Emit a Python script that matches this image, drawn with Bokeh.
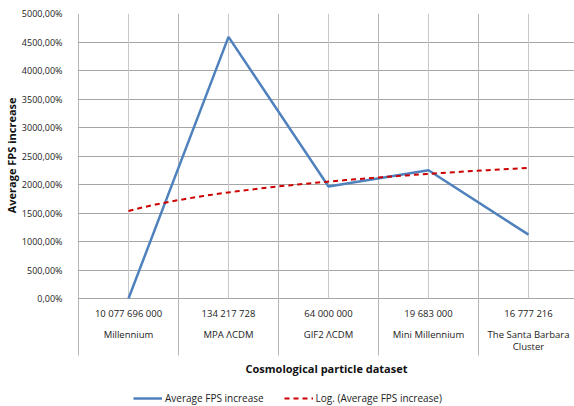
import numpy as np
from bokeh.plotting import figure
from bokeh.models import (Range1d, FixedTicker, CustomJSTickFormatter, Title, Legend, LegendItem)
from bokeh.core.properties import value
from bokeh.embed import file_html
from bokeh.resources import INLINE

# ---- data ----
datasets = ["Millennium", "MPA \u039bCDM", "GIF2 \u039bCDM", "Mini Millennium", "The Santa Barbara\nCluster"]
particles = ["10 077 696 000", "134 217 728", "64 000 000", "19 683 000", "16 777 216"]
fps_increase = [0, 4590, 1965, 2250, 1120]
y_ticks = [0, 500, 1000, 1500, 2000, 2500, 3000, 3500, 4000, 4500, 5000]

n = len(datasets)
xs = list(range(1, n + 1))

# logarithmic trendline (least squares fit of the data, as the spreadsheet does)
b, a = np.polyfit(np.log(xs), fps_increase, 1)
tx = np.linspace(1, n, 60)
ty = a + b * np.log(tx)

FONT = "Open Sans"
PX = 5000 / 285.0          # data units per pixel on the y scale
Y_BOTTOM = -393 * PX + 5000

p = figure(width=574, height=406, output_backend="svg", toolbar_location=None,
           x_axis_location=None,
           x_range=Range1d(0.49, 5.46), y_range=Range1d(Y_BOTTOM, 5000),
           min_border_left=77, min_border_right=0, min_border_top=13, min_border_bottom=0)
p.outline_line_color = None
p.background_fill_color = "white"
p.border_fill_color = "white"
p.xgrid.visible = False

# y axis
p.yaxis.ticker = FixedTicker(ticks=y_ticks)
p.yaxis.formatter = CustomJSTickFormatter(code="return tick.toFixed(2).replace('.', ',') + '%';")
p.yaxis.major_tick_line_color = None
p.yaxis.minor_tick_line_color = None
p.yaxis.axis_line_color = None
p.yaxis.major_label_text_font = FONT
p.yaxis.major_label_text_font_size = "9px"
p.yaxis.major_label_text_color = "#222222"
p.yaxis.major_label_standoff = 9
p.ygrid.ticker = FixedTicker(ticks=y_ticks)
p.ygrid.grid_line_color = "#A6A6A6"
p.ygrid.grid_line_width = 1

# vertical grid: category centres and category boundaries
centres = xs
bounds = [x - 0.5 for x in xs]
p.segment(x0=centres, y0=[0] * n, x1=centres, y1=[5000] * n, line_color="#C8C8C8", line_width=1)
p.segment(x0=bounds, y0=[-1000] * n, x1=bounds, y1=[5000] * n,
          line_color="#B5B5B5", line_width=1)

# category labels (two rows)
p.text(x=xs, y=[-263] * n, text=particles, text_font=value(FONT), text_font_size="9.5px",
       text_align="center", text_baseline="middle", text_color="#222222")
p.text(x=xs, y=[-526] * n, text=datasets, text_font=value(FONT), text_font_size="9.5px",
       text_align="center", text_baseline="top", text_color="#222222", text_line_height=0.9)

# x axis title
p.text(x=[2.98], y=[-70 * PX], text=["Cosmological particle dataset"], text_font=value(FONT),
       text_font_size="11px", text_font_style="bold", text_align="center",
       text_baseline="middle", text_color="#111111")

# series
r1 = p.line(xs, fps_increase, line_color="#4F81BD", line_width=2.5)
r2 = p.line(tx, ty, line_color="#CC0000", line_width=2, line_dash="5 4")

# y axis title
p.add_layout(Title(text="Average FPS increase", align="right", offset=84, standoff=0,
                   text_font=FONT, text_font_size="11px", text_font_style="bold",
                   text_color="#111111"), "left")

legend = Legend(items=[LegendItem(label="Average FPS increase", renderers=[r1]),
                       LegendItem(label="Log. (Average FPS increase)", renderers=[r2])],
                orientation="horizontal", location=(56, 1), padding=2, margin=0, spacing=20,
                glyph_width=29, glyph_height=12, label_standoff=3, border_line_color=None,
                background_fill_alpha=0, label_text_font=FONT, label_text_font_size="10px",
                label_text_color="#222222")
p.add_layout(legend, "center")

open("out.html", "w").write(file_html(p, INLINE))
